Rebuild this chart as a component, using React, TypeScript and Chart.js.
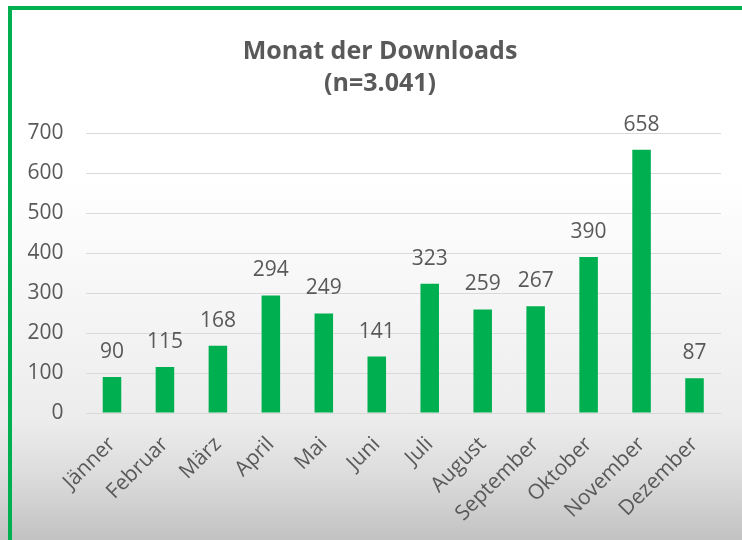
import React, { useEffect, useRef } from "react";
import { Chart, registerables } from "chart.js";

Chart.register(...registerables);

const months = [
  "Jänner", "Februar", "März", "April", "Mai", "Juni",
  "Juli", "August", "September", "Oktober", "November", "Dezember",
];
const downloads = [90, 115, 168, 294, 249, 141, 323, 259, 267, 390, 658, 87];
const titleLines = ["Monat der Downloads", "(n=3.041)"];
const yMax = 700;
const yStep = 100;

const TEXT = "#595959";
const GREEN = "#00B050";
const FONT = "'Open Sans', sans-serif";

const labelsPlugin = {
  id: "valueLabels",
  afterDatasetsDraw(chart: any) {
    const ctx = chart.ctx;
    const meta = chart.getDatasetMeta(0);
    ctx.save();
    ctx.font = `21px ${FONT}`;
    ctx.fillStyle = TEXT;
    ctx.textAlign = "center";
    ctx.textBaseline = "middle";
    meta.data.forEach((el: any, i: number) => {
      ctx.fillText(String(downloads[i]), el.x, el.y - 25);
    });
    ctx.restore();
  },
};

const titlePlugin = {
  id: "customTitle",
  afterDraw(chart: any) {
    const ctx = chart.ctx;
    ctx.save();
    ctx.font = `bold 25px ${FONT}`;
    ctx.fillStyle = TEXT;
    ctx.textAlign = "center";
    ctx.textBaseline = "middle";
    ctx.fillText(titleLines[0], 380, 52);
    ctx.fillText(titleLines[1], 380, 84);
    ctx.restore();
  },
};

export default function App() {
  const ref = useRef<HTMLCanvasElement | null>(null);

  useEffect(() => {
    if (!ref.current) return;
    const chart = new Chart(ref.current, {
      type: "bar",
      data: {
        labels: months,
        datasets: [
          {
            data: downloads,
            backgroundColor: GREEN,
            barPercentage: 0.35,
            categoryPercentage: 1,
          },
        ],
      },
      options: {
        responsive: false,
        animation: false,
        devicePixelRatio: 1,
        layout: { padding: { top: 133, right: 21, left: 0, bottom: 0 } },
        plugins: {
          legend: { display: false },
          title: { display: false },
          tooltip: { enabled: false },
        },
        scales: {
          x: {
            grid: { display: false, drawTicks: false, tickLength: 0 },
            border: { display: false },
            ticks: {
              color: TEXT,
              font: { family: FONT, size: 21 },
              minRotation: 45,
              maxRotation: 45,
              padding: 19,
              autoSkip: false,
            },
            afterFit(scale: any) {
              scale.height = 127;
            },
          },
          y: {
            min: 0,
            max: yMax,
            grid: { color: "#d9d9d9", lineWidth: 1, drawTicks: false, tickLength: 0 },
            border: { display: false },
            ticks: {
              stepSize: yStep,
              color: TEXT,
              font: { family: FONT, size: 21 },
              padding: 22,
            },
            afterFit(scale: any) {
              scale.width = 85.5;
            },
          },
        },
      },
      plugins: [labelsPlugin, titlePlugin],
    });
    return () => chart.destroy();
  }, []);

  return (
    <div
      style={{
        position: "fixed",
        left: 0,
        top: 0,
        width: 742,
        height: 540,
        overflow: "hidden",
        background:
          "linear-gradient(to bottom, #ffffff 0%, #ffffff 33%, #f3f3f3 62%, #ececec 78%, #dcdcdc 88%, #c2c2c2 100%)",
      }}
    >
      <div
        style={{
          position: "absolute",
          left: 8,
          top: 6,
          right: -10,
          bottom: -10,
          borderLeft: `4px solid ${GREEN}`,
          borderTop: `4px solid ${GREEN}`,
        }}
      />
      <canvas
        ref={ref}
        width={742}
        height={540}
        style={{ position: "absolute", left: 0, top: 0, width: 742, height: 540 }}
      />
    </div>
  );
}
